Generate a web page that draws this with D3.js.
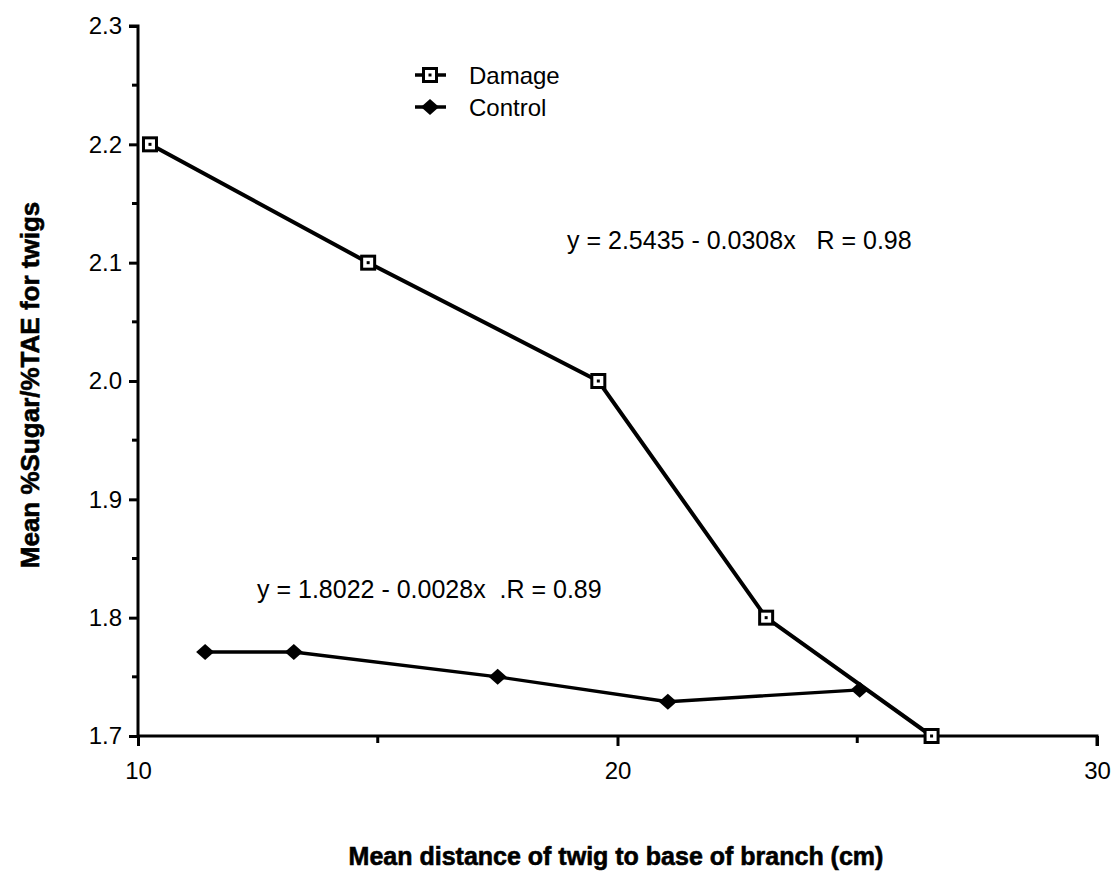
<!DOCTYPE html>
<html>
<head>
<meta charset="utf-8">
<script src="https://cdn.jsdelivr.net/npm/d3@7"></script>
<style>
  body { margin: 0; background: #fff; }
  text { font-family: "Liberation Sans", Arial, sans-serif; fill: #000; }
</style>
</head>
<body>
<svg id="chart" width="1111" height="871"></svg>
<script>
// data
var damageX = [10.25, 14.8, 19.6, 23.1, 26.55];
var damageY = [2.2, 2.1, 2.0, 1.8, 1.7];
var controlX = [11.4, 13.25, 17.5, 21.05, 25.05];
var controlY = [1.771, 1.771, 1.75, 1.729, 1.739];
var xTicks = [10, 20, 30];
var yTicks = [1.7, 1.8, 1.9, 2.0, 2.1, 2.2, 2.3];

var svg = d3.select('#chart');
var x = d3.scaleLinear().domain([10, 30]).range([138, 1097]);
var y = d3.scaleLinear().domain([1.7, 2.3]).range([736, 26]);

// y axis: major + minor ticks on the left
var yAxis = d3.axisLeft(y).tickValues(yTicks).tickSize(9).tickPadding(7)
  .tickFormat(d3.format('.1f'));
var gy = svg.append('g').attr('transform', 'translate(138,0)').call(yAxis);
gy.attr('font-size', null).attr('font-family', null);
gy.select('.domain').attr('stroke-width', 3).attr('d', 'M-9,' + y(2.3) + 'H0V' + y(1.7));
gy.selectAll('.tick line').attr('stroke-width', 3);
gy.selectAll('.tick text').style('font-size', '24px').attr('fill', '#000');
svg.append('g').selectAll('line').data(d3.range(1.75, 2.3, 0.1)).enter().append('line')
  .attr('x1', 132).attr('x2', 138).attr('y1', function(d){ return y(d); })
  .attr('y2', function(d){ return y(d); }).attr('stroke', '#000').attr('stroke-width', 3);

// x axis
var xAxis = d3.axisBottom(x).tickValues(xTicks).tickSize(10).tickPadding(16);
var gx = svg.append('g').attr('transform', 'translate(0,' + y(1.7) + ')').call(xAxis);
gx.attr('font-size', null).attr('font-family', null);
gx.select('.domain').attr('stroke-width', 3).attr('d', 'M' + x(10) + ',0H' + x(30) + 'V10');
gx.selectAll('.tick line').attr('stroke-width', 3);
gx.selectAll('.tick text').style('font-size', '24px').attr('fill', '#000');
svg.append('g').selectAll('line').data([15, 25]).enter().append('line')
  .attr('x1', function(d){ return x(d); }).attr('x2', function(d){ return x(d); })
  .attr('y1', y(1.7)).attr('y2', y(1.7) + 7).attr('stroke', '#000').attr('stroke-width', 3);

// axis titles
svg.append('text').attr('x', 616).attr('y', 865).attr('text-anchor', 'middle')
  .style('font-size', '25px').style('font-weight', 'bold')
  .style('stroke', '#000').style('stroke-width', 0.6)
  .text('Mean distance of twig to base of branch (cm)');
svg.append('text').attr('transform', 'translate(39,385) rotate(-90)').attr('text-anchor', 'middle')
  .style('font-size', '26px').style('font-weight', 'bold')
  .style('stroke', '#000').style('stroke-width', 0.6)
  .text('Mean %Sugar/%TAE for twigs');

var line = d3.line().x(function(d){ return x(d[0]); }).y(function(d){ return y(d[1]); });
var control = d3.zip(controlX, controlY);
var damage = d3.zip(damageX, damageY);

svg.append('path').datum(control).attr('d', line).attr('fill', 'none')
  .attr('stroke', '#000').attr('stroke-width', 3.4);
svg.append('path').datum(damage).attr('d', line).attr('fill', 'none')
  .attr('stroke', '#000').attr('stroke-width', 4);

function diamond(g, cx, cy) {
  g.append('path').attr('d', 'M' + cx + ',' + (cy - 8) + 'L' + (cx + 9) + ',' + cy + 'L' + cx + ',' + (cy + 8) + 'L' + (cx - 9) + ',' + cy + 'Z')
    .attr('fill', '#000');
}
function square(g, cx, cy) {
  g.append('rect').attr('x', cx - 6.5).attr('y', cy - 6.5).attr('width', 13).attr('height', 13)
    .attr('fill', '#fff').attr('stroke', '#000').attr('stroke-width', 3);
  g.append('rect').attr('x', cx - 1.5).attr('y', cy - 1.5).attr('width', 3).attr('height', 3).attr('fill', '#000');
}
var marks = svg.append('g');
control.forEach(function(d){ diamond(marks, x(d[0]), y(d[1])); });
damage.forEach(function(d){ square(marks, x(d[0]), y(d[1])); });

// legend
var lg = svg.append('g');
lg.append('line').attr('x1', 415).attr('x2', 446).attr('y1', 75).attr('y2', 75).attr('stroke', '#000').attr('stroke-width', 3.5);
square(lg, 430, 75);
lg.append('text').attr('x', 469).attr('y', 84).style('font-size', '24px').text('Damage');
lg.append('line').attr('x1', 415).attr('x2', 446).attr('y1', 107).attr('y2', 107).attr('stroke', '#000').attr('stroke-width', 3.5);
diamond(lg, 430, 107);
lg.append('text').attr('x', 469).attr('y', 116).style('font-size', '24px').text('Control');

// regression equations
svg.append('text').attr('x', 567).attr('y', 249).style('font-size', '25px')
  .style('white-space', 'pre').text('y = 2.5435 - 0.0308x   R = 0.98');
svg.append('text').attr('x', 257).attr('y', 598).style('font-size', '25px')
  .style('white-space', 'pre').text('y = 1.8022 - 0.0028x  .R = 0.89');
</script>
</body>
</html>
